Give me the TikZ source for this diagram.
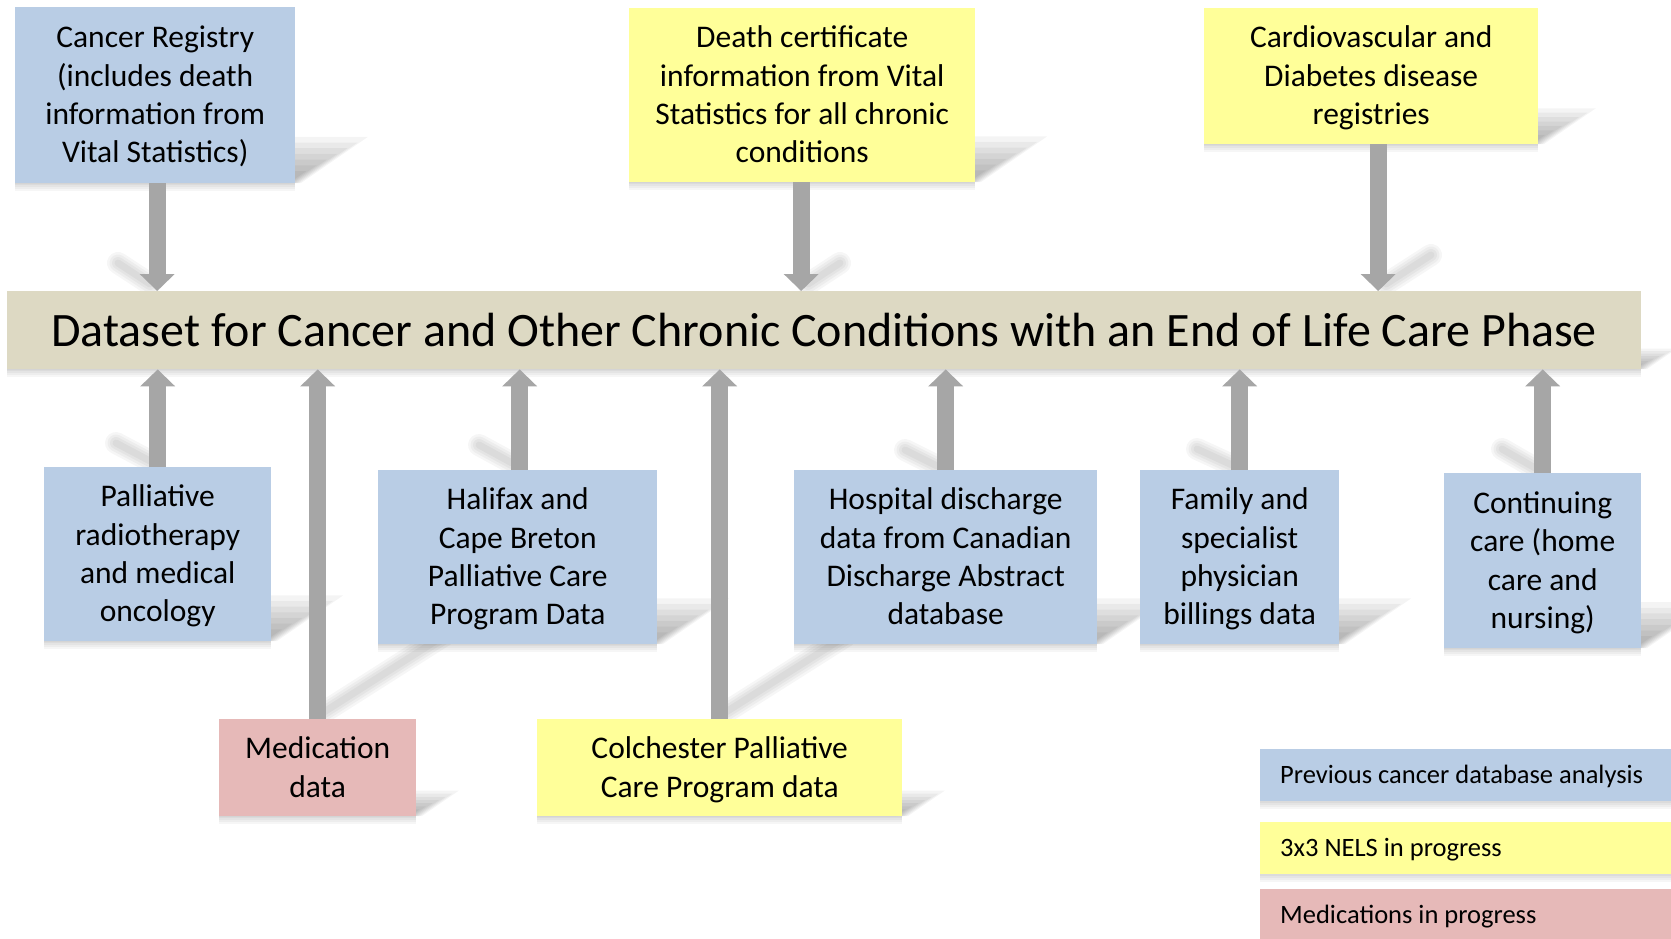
\documentclass[tikz,border=0pt]{standalone}
\usepackage{fontspec}
\setmainfont{Carlito}
\usetikzlibrary{arrows.meta,calc}
\definecolor{bluebox}{HTML}{B9CDE5}
\definecolor{yellowbox}{HTML}{FFFF99}
\definecolor{pinkbox}{HTML}{E6B9B8}
\definecolor{tanbar}{HTML}{DDD9C3}
\definecolor{arrowgray}{HTML}{A6A6A6}
\pgfdeclarelayer{back}
\pgfdeclarelayer{bg}
\pgfsetlayers{back,bg,main}
\tikzset{
  databox/.style={draw=none, inner sep=0pt, anchor=north west,
    font=\fontsize{31.5}{38.4}\selectfont},
  titlebox/.style={databox, font=\fontsize{48}{58}\selectfont},
  legendbox/.style={draw=none, inner sep=0pt, anchor=north west, align=flush left,
    text width=390pt, minimum width=430pt, minimum height=52pt,
    text height=17pt, text depth=0pt,
    font=\fontsize{26.5}{32}\selectfont},
  feed/.style={draw=arrowgray, line width=17pt, -{Triangle[width=34pt,length=17pt]}},
  shadelayer/.style={fill=black, opacity=0.045},
}
\newcommand{\boxtext}[1]{\raisebox{0pt}[\dimexpr\height+5pt\relax][\depth]{\begin{tabular}{@{}c@{}}#1\end{tabular}}}
% soft shadow just below a box: x1, x2, y2
\newcommand{\underglow}[3]{%
  \foreach \s in {2,4,6,8}
    \path[fill=black, opacity=0.035] (#1,#3) rectangle (#2,#3+\s);
}
% name, x1, y1, x2, y2, colour, style, text
\newcommand{\databoxat}[8]{%
  \begin{pgfonlayer}{bg}
    \underglow{#2}{#4}{#5}
    \foreach \k in {0,1,2,3,4,5,6}{%
      \pgfmathsetmacro\rr{0.25*(#5-#3)*(1.05-0.13*\k)}%
      \pgfmathsetmacro\ss{6-2*\k}%
      \path[shadelayer] (#2,#5) -- ({#4+\ss},#5) -- ({#4+\ss+1.45*\rr},{#5-\rr})
        -- ({#2+1.45*\rr},{#5-\rr}) -- cycle;
    }
  \end{pgfonlayer}
  \node[#7, fill=#6, minimum width={(#4-#2)*1pt}, minimum height={(#5-#3)*1pt}] (#1) at (#2,#3) {#8};
}
\newcommand{\legendat}[5]{% name, x1, y1, colour, text
  \begin{pgfonlayer}{bg}
    \underglow{#2}{1690}{#3+52}
  \end{pgfonlayer}
  \node[legendbox, fill=#4] (#1) at (#2,#3) {#5};
}
\newcommand{\arrshade}[4]{%
  \begin{pgfonlayer}{bg}
    \foreach \w in {22,17,12,7}
      \draw[black, opacity=0.035, line width=\w pt, line cap=round] (#1,#2) -- (#3,#4);
  \end{pgfonlayer}
}
\begin{document}
\begin{tikzpicture}[x=1pt,y=-1pt]
\useasboundingbox (0,0) rectangle (1671,938);
\begin{pgfonlayer}{back}
\fill[white] (0,0) rectangle (1671,938);
\end{pgfonlayer}

\databoxat{creg}{15}{7}{295}{183}{bluebox}{databox}{\boxtext{Cancer Registry\\(includes death\\information from\\Vital Statistics)}}
\databoxat{death}{629}{8}{975}{182}{yellowbox}{databox}{\boxtext{Death certificate\\information from Vital\\Statistics for all chronic\\conditions}}
\databoxat{cardio}{1204}{8}{1538}{144}{yellowbox}{databox}{\boxtext{Cardiovascular and\\Diabetes disease\\registries}}
\databoxat{bar}{7}{291}{1641}{369}{tanbar}{titlebox}{Dataset for Cancer and Other Chronic Conditions with an End of Life Care Phase}
\databoxat{pall}{44}{467}{271}{641}{bluebox}{databox}{\boxtext{Palliative\\radiotherapy\\and medical\\oncology}}
\databoxat{hal}{378}{470}{657}{644}{bluebox}{databox}{\boxtext{Halifax and\\Cape Breton\\Palliative Care\\Program Data}}
\databoxat{hosp}{794}{470}{1097}{644}{bluebox}{databox}{\boxtext{Hospital discharge\\data from Canadian\\Discharge Abstract\\database}}
\databoxat{fam}{1140}{470}{1339}{644}{bluebox}{databox}{\boxtext{Family and\\specialist\\physician\\billings data}}
\databoxat{cont}{1444}{473}{1641}{648}{bluebox}{databox}{\boxtext{Continuing\\care (home\\care and\\nursing)}}
\databoxat{med}{219}{719}{416}{816}{pinkbox}{databox}{\boxtext{Medication\\data}}
\databoxat{colch}{537}{719}{902}{816}{yellowbox}{databox}{\boxtext{Colchester Palliative\\Care Program data}}

\legendat{lgblue}{1260}{749}{bluebox}{Previous cancer database analysis}
\legendat{lgyellow}{1260}{822}{yellowbox}{3x3 NELS in progress}
\legendat{lgpink}{1260}{889}{pinkbox}{Medications in progress}

% arrow shadows
\arrshade{150}{284}{118}{263}
\arrshade{808}{284}{840}{263}
\arrshade{1386}{284}{1431}{255}
\arrshade{150}{461}{116}{443}
\arrshade{324}{712}{445}{635}
\arrshade{512}{463}{479}{445}
\arrshade{726}{712}{846}{636}
\arrshade{937}{466}{905}{450}
\arrshade{1232}{465}{1197}{449}
\arrshade{1535}{468}{1502}{449}

% connectors
\coordinate (cregout) at ([xshift=2pt]creg.south);
\coordinate (deathout) at ([xshift=-1pt]death.south);
\coordinate (cardioout) at ([xshift=7pt]cardio.south);
\coordinate (halout) at ([xshift=2pt]hal.north);
\draw[feed] (cregout) -- (cregout |- bar.north);
\draw[feed] (deathout) -- (deathout |- bar.north);
\draw[feed] (cardioout) -- (cardioout |- bar.north);
\draw[feed] (pall.north) -- (pall.north |- bar.south);
\draw[feed] (med.north) -- (med.north |- bar.south);
\draw[feed] (halout) -- (halout |- bar.south);
\draw[feed] (colch.north) -- (colch.north |- bar.south);
\draw[feed] (hosp.north) -- (hosp.north |- bar.south);
\draw[feed] (fam.north) -- (fam.north |- bar.south);
\draw[feed] (cont.north) -- (cont.north |- bar.south);
\end{tikzpicture}
\end{document}
